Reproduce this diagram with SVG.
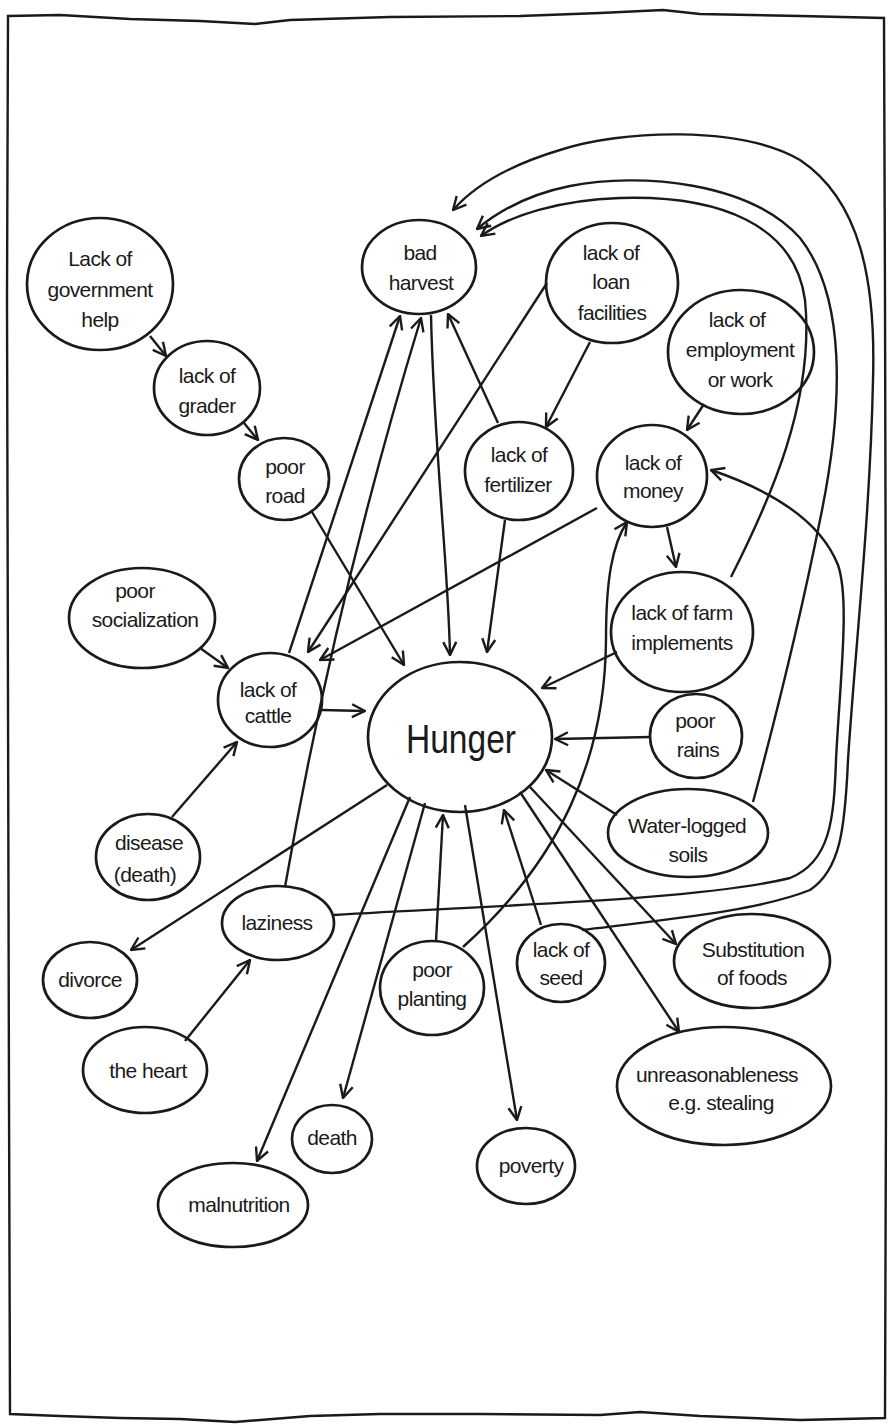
<svg xmlns="http://www.w3.org/2000/svg" width="889" height="1426" viewBox="0 0 889 1426">
<style>
.n{fill:none;stroke:#1a1a1a;stroke-width:2.7}
.c{fill:none;stroke:#1a1a1a;stroke-width:2.4;marker-end:url(#ah)}
.p{fill:none;stroke:#1a1a1a;stroke-width:2.4}
text{font-family:"Liberation Sans",Arial,sans-serif;font-size:21px;fill:#1a1a1a;text-anchor:middle;letter-spacing:-0.6px}
.big{font-size:40px;letter-spacing:0}
</style>
<defs>
<marker id="ah" viewBox="0 0 16 16" refX="15" refY="8" markerWidth="16" markerHeight="16" markerUnits="userSpaceOnUse" orient="auto">
<path d="M2,1.5 L15,8 L2,14.5" fill="none" stroke="#1a1a1a" stroke-width="2.4"/>
</marker>
</defs>
<rect width="889" height="1426" fill="#fff"/>
<path id="frame" class="p" stroke-width="2.8" d="M8,16 L60,15 L130,19 L200,21 L255,24 L290,20 L390,17 L520,16 L600,13 L663,10 L700,14 L800,16 L884,18 L885,300 L886,700 L886,1100 L885,1418 L800,1420 L700,1416 L640,1412 L600,1415 L480,1414 L380,1414 L310,1416 L235,1422 L180,1419 L120,1418 L60,1416 L10,1414 L9,1100 L8,700 L7,300 Z"/>
<g id="connectors">
<path class="c" d="M150,336 L166,356"/>
<path class="c" d="M244,423 L258,440"/>
<path class="c" d="M312,512 L404,665"/>
<path class="c" d="M289,653 L400,316"/>
<path class="c" d="M285,887 Q335,600 421,318"/>
<path class="c" d="M431,315 C434,450 448,560 450,655"/>
<path class="c" d="M498,423 L448,314"/>
<path class="c" d="M547,283 L308,652"/>
<path class="c" d="M597,508 L320,660"/>
<path class="c" d="M590,342 L546,427"/>
<path class="c" d="M704,404 L687,430"/>
<path class="c" d="M505,520 L487,652"/>
<path class="c" d="M667,527 L676,567"/>
<path class="c" d="M617,652 L542,688"/>
<path class="c" d="M650,737 L555,739"/>
<path class="c" d="M617,815 L546,770"/>
<path class="c" d="M731,577 C770,500 815,400 805,300 C795,225 720,195 620,198 C560,200 510,215 481,236"/>
<path class="c" d="M753,802 C775,720 800,620 820,520 C845,400 845,295 800,238 C750,182 640,172 570,186 C530,194 500,210 477,229"/>
<path class="c" d="M582,930 C680,918 760,910 810,890 C840,870 845,830 848,760 C855,650 870,520 873,380 C876,280 860,200 800,160 C740,125 620,130 560,150 C510,165 475,185 453,210"/>
<path class="c" d="M334,915 C500,905 700,900 790,878 C830,862 834,820 836,760 C840,680 850,600 838,565 C820,520 770,490 711,470"/>
<path class="c" d="M387,785 L131,950"/>
<path class="c" d="M185,1041 L250,960"/>
<path class="c" d="M172,817 L237,742"/>
<path class="c" d="M200,648 L228,668"/>
<path class="c" d="M322,710 L365,711"/>
<path class="c" d="M410,797 L257,1161"/>
<path class="c" d="M425,803 L343,1098"/>
<path class="c" d="M436,941 L443,815"/>
<path class="c" d="M463,947 C560,860 605,760 606,640 C606,580 612,545 627,522"/>
<path class="c" d="M465,805 L517,1120"/>
<path class="c" d="M541,925 L504,810"/>
<path class="c" d="M530,787 L676,944"/>
<path class="c" d="M520,792 L679,1032"/>
</g>
<g id="n-gov"><ellipse class="n" cx="100" cy="284" rx="73" ry="66"/><text x="100" y="266">Lack of</text><text x="100" y="297">government</text><text x="100" y="327">help</text></g>
<g id="n-grader"><ellipse class="n" cx="207" cy="388" rx="53" ry="47"/><text x="207" y="383">lack of</text><text x="207" y="413">grader</text></g>
<g id="n-road"><ellipse class="n" cx="284" cy="479" rx="45" ry="41"/><text x="285" y="474">poor</text><text x="285" y="503">road</text></g>
<g id="n-harvest"><ellipse class="n" cx="419" cy="267" rx="57" ry="47"/><text x="420" y="260">bad</text><text x="421" y="290">harvest</text></g>
<g id="n-loan"><ellipse class="n" cx="612" cy="283" rx="66" ry="60"/><text x="611" y="260">lack of</text><text x="611" y="289">loan</text><text x="612" y="320">facilities</text></g>
<g id="n-employ"><ellipse class="n" cx="741" cy="352" rx="73" ry="62"/><text x="737" y="327">lack of</text><text x="740" y="357">employment</text><text x="740" y="387">or work</text></g>
<g id="n-fert"><ellipse class="n" cx="519" cy="471" rx="54" ry="49"/><text x="519" y="462">lack of</text><text x="518" y="492">fertilizer</text></g>
<g id="n-money"><ellipse class="n" cx="652" cy="476" rx="55" ry="51"/><text x="653" y="470">lack of</text><text x="653" y="498">money</text></g>
<g id="n-farm"><ellipse class="n" cx="682" cy="632" rx="71" ry="60"/><text x="682" y="620">lack of farm</text><text x="682" y="650">implements</text></g>
<g id="n-rains"><ellipse class="n" cx="696" cy="736" rx="46" ry="42"/><text x="695" y="728">poor</text><text x="698" y="757">rains</text></g>
<g id="n-water"><ellipse class="n" cx="688" cy="833" rx="80" ry="44"/><text x="687" y="833">Water-logged</text><text x="688" y="862">soils</text></g>
<g id="n-hunger"><ellipse class="n" cx="460" cy="737" rx="92" ry="75"/><text class="big" x="461" y="753" textLength="110" lengthAdjust="spacingAndGlyphs">Hunger</text></g>
<g id="n-cattle"><ellipse class="n" cx="270" cy="700" rx="52" ry="47"/><text x="268" y="697">lack of</text><text x="268" y="723">cattle</text></g>
<g id="n-social"><ellipse class="n" cx="142" cy="618" rx="73" ry="50"/><text x="135" y="598">poor</text><text x="145" y="627">socialization</text></g>
<g id="n-disease"><ellipse class="n" cx="148" cy="857" rx="52" ry="43"/><text x="149" y="850">disease</text><text x="145" y="882">(death)</text></g>
<g id="n-lazy"><ellipse class="n" cx="278" cy="923" rx="56" ry="37"/><text x="277" y="930">laziness</text></g>
<g id="n-divorce"><ellipse class="n" cx="90" cy="980" rx="47" ry="38"/><text x="90" y="987">divorce</text></g>
<g id="n-heart"><ellipse class="n" cx="145" cy="1070" rx="62" ry="43"/><text x="148" y="1078">the heart</text></g>
<g id="n-death"><ellipse class="n" cx="332" cy="1139" rx="40" ry="34"/><text x="332" y="1145">death</text></g>
<g id="n-malnut"><ellipse class="n" cx="233" cy="1205" rx="75" ry="42"/><text x="239" y="1212">malnutrition</text></g>
<g id="n-planting"><ellipse class="n" cx="432" cy="988" rx="52" ry="47"/><text x="432" y="977">poor</text><text x="432" y="1006">planting</text></g>
<g id="n-seed"><ellipse class="n" cx="561" cy="963" rx="44" ry="39"/><text x="561" y="957">lack of</text><text x="561" y="985">seed</text></g>
<g id="n-subst"><ellipse class="n" cx="752" cy="961" rx="78" ry="47"/><text x="753" y="957">Substitution</text><text x="752" y="985">of foods</text></g>
<g id="n-unreas"><ellipse class="n" cx="724" cy="1086" rx="107" ry="59"/><text x="717" y="1082" font-size="20">unreasonableness</text><text x="721" y="1110">e.g. stealing</text></g>
<g id="n-poverty"><ellipse class="n" cx="526" cy="1166" rx="49" ry="38"/><text x="531" y="1173">poverty</text></g>
</svg>
